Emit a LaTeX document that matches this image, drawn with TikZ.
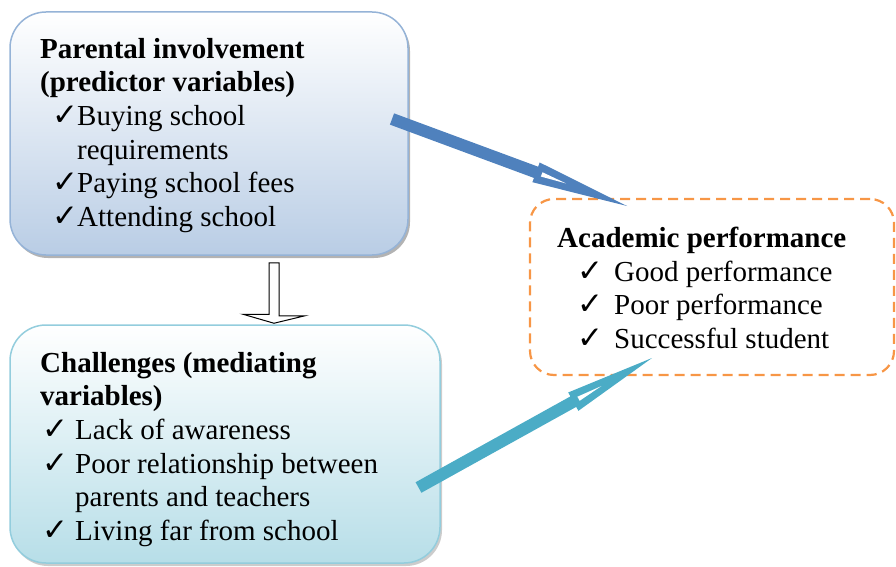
\documentclass[tikz,border=0pt]{standalone}
\usepackage{fontspec}
\setmainfont{Liberation Serif}
\newfontfamily\symfont{DejaVu Sans}
\usepackage{tikz}
\usetikzlibrary{calc}
\usetikzlibrary{shadows}
\definecolor{pborder}{HTML}{95B3D7}
\definecolor{pfill}{HTML}{B9CDE5}
\definecolor{cborder}{HTML}{93CDDD}
\definecolor{cfill}{HTML}{B7DEE8}
\definecolor{perfline}{HTML}{F79646}
\definecolor{bluearrow}{HTML}{4F81BD}
\definecolor{tealarrow}{HTML}{4BACC6}
\tikzset{parentbox/.style={draw=pborder,line width=1.5pt,rounded corners=36pt,
           top color=white,bottom color=pfill,
           drop shadow={shadow xshift=2pt,shadow yshift=-3pt,fill=black!50,opacity=.6}},
         challbox/.style={draw=cborder,line width=1.5pt,rounded corners=36pt,
           top color=white,bottom color=cfill,
           drop shadow={shadow xshift=2pt,shadow yshift=-3pt,fill=black!40,opacity=.5}},
         perfbox/.style={draw=perfline,line width=2.2pt,rounded corners=24pt,
           dash pattern=on 10pt off 6pt},
         boxtext/.style={inner sep=0pt,anchor=north west,align=left,
           font=\fontsize{29}{33.6}\selectfont},
         downarrow/.style={draw=black,fill=white,line width=1pt,line join=miter}}
% check mark in a box of given width
\newcommand{\chk}[1]{\makebox[#1][l]{\smash{\symfont\fontsize{31}{31}\selectfont ✓}}}
% thick arrow: colour, start, tip, head length
\newcommand{\fatarrow}[4]{%
  \coordinate (hb) at ($(#3)!#4!(#2)$);
  \coordinate (wb) at ($(hb)!6pt!(#3)$);
  \coordinate (wt) at ($(hb)!32pt!(#3)$);
  \fill[#1] ($(#2)!6pt!90:(#3)$) -- ($(hb)!6pt!90:(#3)$) -- ($(hb)!10.5pt!90:(#3)$) -- (#3)
    -- ($(hb)!10.5pt!-90:(#3)$) -- ($(hb)!6pt!-90:(#3)$) -- ($(#2)!6pt!-90:(#3)$) -- cycle;
  \fill[white] ($(wb)!2.3pt!90:(#3)$) -- (wt) -- ($(wb)!2.3pt!-90:(#3)$) -- cycle;
}

\begin{document}
\begin{tikzpicture}[x=1pt,y=-1pt]
\useasboundingbox (0,0) rectangle (896,567);

% boxes
\node[parentbox,minimum width=398,minimum height=243] (parent) at (209,133.5) {};
\node[challbox,minimum width=430,minimum height=238] (chall) at (225,444) {};
\node[perfbox,minimum width=364,minimum height=176] (perf) at (712,287) {};

% texts
\node[boxtext] (parenttxt) at (40,38) {\textbf{Parental involvement}\\
  \textbf{(predictor variables)}\\
  \hspace*{12pt}\chk{25pt}Buying school\\
  \hspace*{37pt}requirements\\
  \hspace*{12pt}\chk{25pt}Paying school fees\\
  \hspace*{12pt}\chk{25pt}Attending school};
\node[boxtext] (challtxt) at (40,352) {\textbf{Challenges (mediating}\\
  \textbf{variables)}\\
  \hspace*{2pt}\chk{33pt}Lack of awareness\\
  \hspace*{2pt}\chk{33pt}Poor relationship between\\
  \hspace*{35pt}parents and teachers\\
  \hspace*{2pt}\chk{33pt}Living far from school};
\node[boxtext] (perftxt) at (557,227) {\textbf{Academic performance}\\
  \hspace*{20pt}\chk{37pt}Good performance\\
  \hspace*{20pt}\chk{37pt}Poor performance\\
  \hspace*{20pt}\chk{37pt}Successful student};

% connectors
\coordinate (p1) at ([shift={(183,-14.5)}]parent.center);
\coordinate (p2) at ([shift={(-85,-81)}]perf.center);
\fatarrow{bluearrow}{p1}{p2}{97pt}
\coordinate (c1) at ([shift={(193.5,43.5)}]chall.center);
\coordinate (c2) at ([shift={(-60,71)}]perf.center);
\fatarrow{tealarrow}{c1}{c2}{90pt}

\coordinate (dtop) at ([shift={(65,7)}]parent.south);
\coordinate (dtip) at ([shift={(49,-1)}]chall.north);
\draw[downarrow] (dtop) ++(-5,0) -- ++(10,0) -- ++(0,53) -- ++(26,0) -- (dtip)
  -- ++(-31,-9) -- ++(26,0) -- cycle;
\end{tikzpicture}
\end{document}
